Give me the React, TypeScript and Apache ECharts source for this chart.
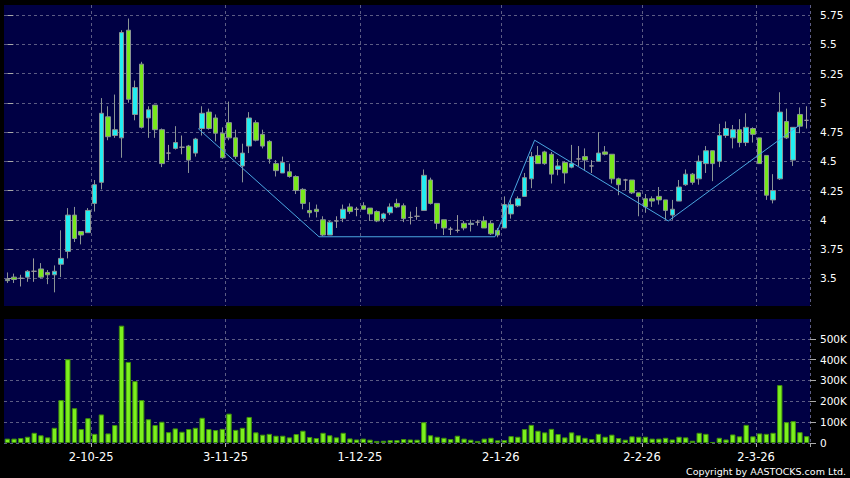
import React, { useEffect, useRef } from 'react';
import * as echarts from 'echarts';

const dates = [
  '12-9-25', '15-9-25', '16-9-25', '17-9-25', '18-9-25', '19-9-25', '22-9-25', '23-9-25', '24-9-25', '25-9-25', '26-9-25', '29-9-25', '30-9-25',
  '2-10-25', '3-10-25', '6-10-25', '8-10-25', '9-10-25', '10-10-25', '13-10-25', '14-10-25', '15-10-25', '16-10-25', '17-10-25', '20-10-25', '21-10-25', '22-10-25', '23-10-25', '24-10-25', '27-10-25', '28-10-25', '30-10-25', '31-10-25',
  '3-11-25', '4-11-25', '5-11-25', '6-11-25', '7-11-25', '10-11-25', '11-11-25', '12-11-25', '13-11-25', '14-11-25', '17-11-25', '18-11-25', '19-11-25', '20-11-25', '21-11-25', '24-11-25', '25-11-25', '26-11-25', '27-11-25', '28-11-25',
  '1-12-25', '2-12-25', '3-12-25', '4-12-25', '5-12-25', '8-12-25', '9-12-25', '10-12-25', '11-12-25', '12-12-25', '15-12-25', '16-12-25', '17-12-25', '18-12-25', '19-12-25', '22-12-25', '23-12-25', '24-12-25', '29-12-25', '30-12-25', '31-12-25',
  '2-1-26', '5-1-26', '6-1-26', '7-1-26', '8-1-26', '9-1-26', '12-1-26', '13-1-26', '14-1-26', '15-1-26', '16-1-26', '19-1-26', '20-1-26', '21-1-26', '22-1-26', '23-1-26', '26-1-26', '27-1-26', '28-1-26', '29-1-26', '30-1-26',
  '2-2-26', '3-2-26', '4-2-26', '5-2-26', '6-2-26', '9-2-26', '10-2-26', '11-2-26', '12-2-26', '13-2-26', '16-2-26', '20-2-26', '23-2-26', '24-2-26', '25-2-26', '26-2-26', '27-2-26',
  '2-3-26', '3-3-26', '4-3-26', '5-3-26', '6-3-26', '9-3-26', '10-3-26', '11-3-26',
];

const opens = [
  3.49, 3.51, 3.50, 3.51, 3.56, 3.58, 3.55, 3.53, 3.62, 3.73, 4.04, 3.90, 3.89, 4.14, 4.32, 4.88, 4.72, 4.70, 5.62, 4.90,
  5.33, 4.87, 4.98, 4.77, 4.57, 4.61, 4.62, 4.63, 4.57, 4.78, 4.92, 4.87, 4.74, 4.83, 4.70, 4.46, 4.63, 4.83, 4.73, 4.67,
  4.48, 4.40, 4.41, 4.37, 4.26, 4.08, 4.09, 4.00, 3.87, 3.99, 4.01, 4.11, 4.09, 4.12, 4.10, 4.07, 4.01, 4.06, 4.14, 4.12,
  4.02, 4.03, 4.08, 4.34, 4.14, 4.00, 3.92, 3.91, 3.97, 3.96, 3.98, 3.99, 3.97, 3.91, 3.93, 4.05, 4.12, 4.20, 4.35, 4.55,
  4.58, 4.56, 4.43, 4.49, 4.45, 4.52, 4.54, 4.46, 4.50, 4.58, 4.56, 4.35, 4.34, 4.34, 4.23, 4.18, 4.18, 4.20, 4.17, 4.04,
  4.16, 4.30, 4.39, 4.35, 4.48, 4.59, 4.50, 4.72, 4.70, 4.77, 4.66, 4.78, 4.70, 4.55, 4.17, 4.35, 4.84, 4.51, 4.90, 4.85,
];
const closes = [
  3.48, 3.49, 3.50, 3.56, 3.56, 3.51, 3.53, 3.56, 3.67, 4.04, 3.84, 3.87, 4.08, 4.30, 4.91, 4.71, 4.77, 5.60, 5.03, 5.13,
  4.79, 4.94, 4.77, 4.48, 4.57, 4.66, 4.62, 4.51, 4.69, 4.91, 4.78, 4.74, 4.53, 4.70, 4.54, 4.57, 4.87, 4.68, 4.63, 4.52,
  4.42, 4.49, 4.37, 4.25, 4.14, 4.06, 4.07, 3.87, 3.98, 3.99, 4.09, 4.07, 4.09, 4.09, 4.05, 3.99, 4.05, 4.11, 4.11, 4.01,
  4.02, 4.03, 4.38, 4.14, 3.97, 3.93, 3.92, 3.91, 3.93, 3.97, 3.98, 3.93, 3.88, 3.87, 4.13, 4.13, 4.18, 4.36, 4.54, 4.48,
  4.48, 4.39, 4.46, 4.40, 4.48, 4.52, 4.51, 4.46, 4.57, 4.56, 4.35, 4.30, 4.34, 4.23, 4.20, 4.11, 4.16, 4.17, 4.08, 4.09,
  4.28, 4.39, 4.32, 4.50, 4.59, 4.48, 4.72, 4.78, 4.77, 4.66, 4.79, 4.73, 4.48, 4.21, 4.25, 4.92, 4.70, 4.79, 4.80, 4.85,
];
const lows = [
  3.46, 3.46, 3.43, 3.47, 3.47, 3.50, 3.45, 3.38, 3.51, 3.67, 3.81, 3.79, 3.89, 4.07, 4.26, 4.68, 4.70, 4.53, 5.00, 4.85,
  4.78, 4.70, 4.70, 4.45, 4.51, 4.60, 4.56, 4.40, 4.54, 4.72, 4.77, 4.67, 4.52, 4.68, 4.52, 4.32, 4.57, 4.67, 4.61, 4.48,
  4.37, 4.40, 4.36, 4.22, 4.09, 4.02, 4.02, 3.86, 3.87, 3.93, 3.98, 4.05, 4.03, 4.09, 3.99, 3.98, 3.98, 4.04, 4.10, 3.98,
  3.96, 4.00, 4.08, 4.13, 3.92, 3.87, 3.87, 3.89, 3.91, 3.90, 3.95, 3.93, 3.87, 3.85, 3.93, 4.01, 4.11, 4.20, 4.27, 4.48,
  4.47, 4.31, 4.38, 4.31, 4.44, 4.46, 4.42, 4.40, 4.50, 4.55, 4.31, 4.21, 4.25, 4.22, 4.03, 4.06, 4.11, 4.13, 4.00, 4.00,
  4.16, 4.29, 4.30, 4.30, 4.40, 4.33, 4.45, 4.70, 4.61, 4.62, 4.63, 4.66, 4.48, 4.17, 4.14, 4.34, 4.69, 4.46, 4.74, 4.78,
];
const highs = [
  3.55, 3.54, 3.53, 3.57, 3.67, 3.63, 3.57, 3.61, 3.91, 4.10, 4.11, 3.90, 4.10, 4.34, 5.04, 4.97, 5.07, 5.62, 5.72, 5.19,
  5.35, 4.97, 4.98, 4.78, 4.64, 4.80, 4.72, 4.64, 4.70, 4.97, 4.95, 4.90, 4.79, 5.01, 4.77, 4.65, 4.92, 4.85, 4.77, 4.68,
  4.51, 4.54, 4.48, 4.38, 4.27, 4.15, 4.13, 4.03, 3.99, 4.03, 4.13, 4.14, 4.11, 4.15, 4.10, 4.08, 4.06, 4.14, 4.18, 4.14,
  4.07, 4.11, 4.43, 4.36, 4.14, 4.00, 3.94, 4.04, 3.99, 4.00, 4.00, 4.03, 3.99, 3.93, 4.20, 4.18, 4.20, 4.40, 4.58, 4.63,
  4.59, 4.58, 4.52, 4.50, 4.64, 4.63, 4.61, 4.51, 4.75, 4.63, 4.56, 4.36, 4.35, 4.34, 4.23, 4.22, 4.20, 4.28, 4.17, 4.17,
  4.34, 4.43, 4.40, 4.55, 4.63, 4.59, 4.82, 4.84, 4.81, 4.86, 4.91, 4.79, 4.70, 4.55, 4.39, 5.09, 4.95, 4.79, 4.96, 4.97,
];

// volume in thousands of shares
const volumesK = [
  21, 21, 24, 30, 49, 37, 27, 73, 206, 402, 167, 67, 119, 44, 137, 46, 86, 563, 389, 297,
  206, 114, 86, 102, 52, 70, 54, 67, 73, 121, 67, 62, 68, 141, 63, 73, 125, 51, 40, 44,
  35, 35, 27, 43, 59, 29, 24, 49, 37, 27, 49, 22, 17, 21, 16, 10, 11, 14, 14, 19,
  17, 16, 100, 37, 30, 25, 19, 35, 21, 16, 10, 21, 25, 13, 14, 33, 30, 67, 87, 59,
  51, 68, 43, 27, 51, 37, 25, 19, 44, 30, 40, 24, 16, 32, 30, 30, 21, 21, 25, 17,
  30, 27, 11, 49, 44, 5, 25, 17, 41, 32, 87, 32, 46, 44, 49, 278, 100, 105, 52, 33,
];

const priceTicks = [3.5, 3.75, 4, 4.25, 4.5, 4.75, 5, 5.25, 5.5, 5.75];
const volumeTicks = [0, 100000, 200000, 300000, 400000, 500000];
const labelDates = ['2-10-25', '3-11-25', '1-12-25', '2-1-26', '2-2-26', '2-3-26'];

// trend line vertices (bar position, price)
const trendPos = [28.4, 46.4, 72.6, 78.5, 98.4, 118.2];
const trendPrice = [4.78, 3.855, 3.855, 4.68, 3.99, 4.82];

export default function App() {
  const ref = useRef<HTMLDivElement>(null);
  useEffect(() => {
    const chart = echarts.init(ref.current as HTMLDivElement, null, { renderer: 'svg' });
    const candleData = opens.map((o, i) => [o, closes[i], lows[i], highs[i]]);
    const labelIdx = labelDates.map((d) => dates.indexOf(d));
    const showAt = (i: number) => labelIdx.indexOf(i) >= 0;
    const trendData = trendPos.map((x, i) => [x, trendPrice[i]]);
    const font = 'DejaVu Sans';
    const dash = { color: '#5c5c84', type: [3, 3], width: 1 };
    const navy = '#000044';

    chart.setOption({
      animation: false,
      backgroundColor: '#000000',
      grid: [
        { left: 4, right: 40, top: 5, height: 301, show: true, backgroundColor: navy, borderWidth: 0 },
        { left: 4, right: 40, top: 319, height: 124, show: true, backgroundColor: navy, borderWidth: 0 },
      ],
      xAxis: [
        {
          type: 'category', gridIndex: 0, data: dates, boundaryGap: true,
          axisLine: { show: false }, axisTick: { show: false }, axisLabel: { show: false },
          splitLine: { show: true, interval: (i: number) => showAt(i), lineStyle: dash },
        },
        {
          type: 'category', gridIndex: 1, data: dates, boundaryGap: true,
          axisLine: { show: false },
          axisTick: { show: true, interval: (i: number) => showAt(i), length: 4, lineStyle: { color: '#aaaaaa' } },
          axisLabel: {
            interval: (i: number) => showAt(i), color: '#ffffff', fontFamily: font, fontSize: 11.5,
            margin: 8, padding: [0, 7, 0, 0],
          },
          splitLine: { show: true, interval: (i: number) => showAt(i), lineStyle: dash },
        },
        { type: 'value', gridIndex: 0, min: -0.5, max: dates.length - 0.5, show: false },
      ],
      yAxis: [
        {
          type: 'value', gridIndex: 0, position: 'right', min: 3.2633, max: 5.8354,
          axisLine: { show: false },
          axisTick: { show: true, length: 6, customValues: priceTicks, lineStyle: { color: '#aaaaaa' } },
          axisLabel: {
            customValues: priceTicks, color: '#ffffff', fontFamily: font, fontSize: 10.5, margin: 10,
            formatter: (v: number) => String(v),
          },
          splitLine: { show: true, lineStyle: dash },
        },
        {
          type: 'value', gridIndex: 1, position: 'right', min: 0, max: 595000,
          axisLine: { show: false },
          axisTick: { show: true, length: 6, customValues: volumeTicks, lineStyle: { color: '#aaaaaa' } },
          axisLabel: {
            customValues: volumeTicks, color: '#ffffff', fontFamily: font, fontSize: 10.5, margin: 10,
            formatter: (v: number) => (v === 0 ? '0' : v / 1000 + 'K'),
          },
          splitLine: { show: true, lineStyle: dash },
        },
      ],
      series: [
        {
          type: 'candlestick', xAxisIndex: 0, yAxisIndex: 0, data: candleData, barWidth: 5,
          itemStyle: {
            color: '#22eef2', color0: '#78e81c', borderColor: '#8a9494', borderColor0: '#8a9494',
            borderColorDoji: '#9a9a9a', borderWidth: 1,
          },
        },
        {
          type: 'bar', xAxisIndex: 1, yAxisIndex: 1, data: volumesK.map((v) => v * 1000), barWidth: '80%',
          itemStyle: { color: '#7cf01e', borderColor: '#3f8f0c', borderWidth: 1 },
        },
        {
          type: 'line', xAxisIndex: 2, yAxisIndex: 0, data: trendData, symbol: 'none', z: 5,
          lineStyle: { color: '#4aa6e0', width: 1 },
        },
      ],
      graphic: [
        {
          type: 'text', right: 4, top: 466,
          style: { text: 'Copyright by AASTOCKS.com Ltd.', fill: '#ffffff', font: '9.5px "DejaVu Sans"' },
        },
      ],
    });
    return () => chart.dispose();
  }, []);
  return <div ref={ref} style={{ position: 'absolute', left: 0, top: 0, width: 850, height: 478 }} />;
}
